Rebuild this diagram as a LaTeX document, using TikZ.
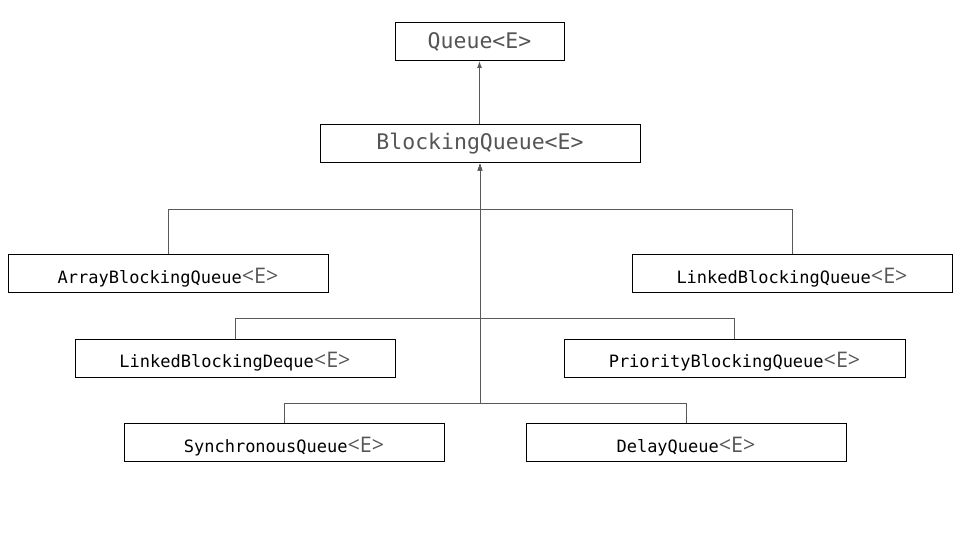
\documentclass[tikz,border=0pt]{standalone}
\usepackage{fontspec}
\usepackage{tikz}
\usepackage{xcolor}
\usetikzlibrary{positioning,calc,arrows.meta}
\setmonofont{DejaVu Sans Mono}
\newfontfamily\genfont{Open Sans}
\definecolor{linkgray}{RGB}{89, 89, 89}
\definecolor{textgray}{RGB}{85, 85, 85}
\newcommand{\gen}{{\genfont\fontsize{21.5}{21.5}\selectfont\color{textgray}<E>}}

\tikzset{
  topbox/.style={draw, line width=1pt, minimum height=38pt, inner sep=0pt,
    font=\ttfamily\fontsize{21.5}{21.5}\selectfont, text=textgray},
  subbox/.style={draw, line width=1pt, minimum width=320pt, minimum height=38pt, inner sep=0pt,
    text height=20pt, text depth=1pt, font=\ttfamily\fontsize{17}{17}\selectfont},
  link/.style={draw=linkgray, line width=1pt},
  arr/.style={link, -{Latex[length=7pt,width=5pt]}}
}

\begin{document}
\begin{tikzpicture}[x=1pt,y=-1pt]
    \useasboundingbox (0,0) rectangle (960,540);

    % Interfaces
    \node[topbox, minimum width=169pt] (queue) at (479.5,41.5) {Queue<E>};
    \node[topbox, minimum width=320pt] (bq) at (480,144) {BlockingQueue<E>};

    % Implementations
    \node[subbox] (abq) at (168,273.5) {ArrayBlockingQueue\gen};
    \node[subbox] (lbq) at (792,273.5) {LinkedBlockingQueue\gen};
    \node[subbox] (lbd) at (235,358) {LinkedBlockingDeque\gen};
    \node[subbox, minimum width=341pt] (pbq) at (734.5,358) {PriorityBlockingQueue\gen};
    \node[subbox] (sq) at (284,442.5) {SynchronousQueue\gen};
    \node[subbox] (dq) at (686,442.5) {DelayQueue\gen};

    % Bus levels
    \coordinate (bus1) at (480,209);
    \coordinate (bus2) at (480,318);
    \coordinate (bus3) at (480,403);

    % Links
    \draw[arr] (bq.north -| queue.south) -- (queue.south);
    \draw[arr] (abq.north) |- (bus1) -- (bq.south);
    \draw[arr] (lbq.north) |- (bus1) -- (bq.south);
    \draw[arr] (lbd.north) |- (bus2) -- (bq.south);
    \draw[arr] (pbq.north) |- (bus2) -- (bq.south);
    \draw[arr] (sq.north) |- (bus3) -- (bq.south);
    \draw[arr] (dq.north) |- (bus3) -- (bq.south);
\end{tikzpicture}
\end{document}
